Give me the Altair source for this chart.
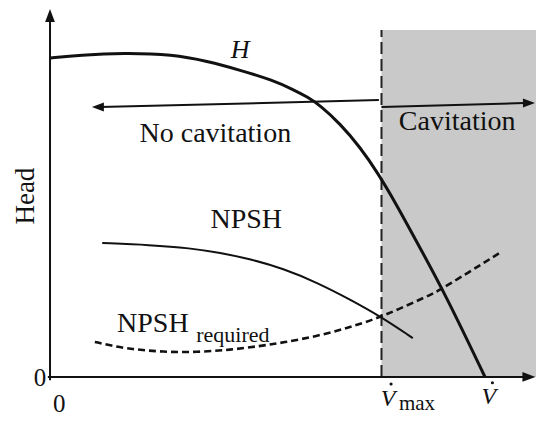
import altair as alt
import pandas as pd

# ---- data (flow in units of V-dot, head in units of shut-off head) ----
V_MAX = 0.762
GRAY_TOP = 1.088

h_q = [0.0, 0.069, 0.168, 0.283, 0.361, 0.437, 0.513, 0.559, 0.593, 0.621, 0.667, 0.713, 0.752, 0.798, 0.834, 0.908, 1.0]
h_head = [1.0, 1.009, 1.016, 1.011, 0.990, 0.962, 0.930, 0.901, 0.877, 0.851, 0.794, 0.720, 0.643, 0.537, 0.446, 0.262, 0.0]

npsh_q = [0.120, 0.230, 0.322, 0.391, 0.460, 0.536, 0.614, 0.690, 0.762, 0.834]
npsh_head = [0.420, 0.414, 0.404, 0.389, 0.370, 0.340, 0.296, 0.243, 0.188, 0.122]

req_q = [0.103, 0.145, 0.184, 0.260, 0.338, 0.414, 0.483, 0.536, 0.614, 0.690, 0.762, 0.874, 0.901, 1.034]
req_head = [0.110, 0.097, 0.088, 0.078, 0.078, 0.085, 0.097, 0.108, 0.128, 0.156, 0.188, 0.257, 0.276, 0.389]

FONT = "Liberation Serif"
XS = alt.Scale(domain=[-0.0966, 1.1172], nice=False, zero=False)
YS = alt.Scale(domain=[-0.1223, 1.1567], nice=False, zero=False)


def X(f="x"):
    return alt.X(f"{f}:Q", scale=XS, axis=None)


def Y(f="y"):
    return alt.Y(f"{f}:Q", scale=YS, axis=None)


# shaded cavitation region
gray = alt.Chart(pd.DataFrame({"x": [V_MAX], "x2": [1.12], "y": [0.0], "y2": [GRAY_TOP]})).mark_rect(
    color="#c9c9c9"
).encode(x=X(), x2="x2:Q", y=Y(), y2="y2:Q")

vline = alt.Chart(pd.DataFrame({"x": [V_MAX], "y": [0.0], "y2": [GRAY_TOP]})).mark_rule(
    color="#222", strokeWidth=2, strokeDash=[12, 5]
).encode(x=X(), y=Y(), y2="y2:Q")


def curve(qs, hs, **kw):
    df = pd.DataFrame({"x": qs, "y": hs, "o": range(len(qs))})
    return alt.Chart(df).mark_line(interpolate="basis", color="#111", **kw).encode(
        x=X(), y=Y(), order="o:Q"
    )


h_line = curve(h_q, h_head, strokeWidth=3)
npsh_line = curve(npsh_q, npsh_head, strokeWidth=2)
req_line = curve(req_q, req_head, strokeWidth=2.6, strokeDash=[7, 4])

# axes and arrows as segments
seg_df = pd.DataFrame({
    "x": [0.0, -0.005, 0.115, V_MAX],
    "y": [-0.01, 0.0, 0.846, 0.846],
    "x2": [0.0, 1.09, 0.756, 1.09],
    "y2": [1.12, 0.0, 0.868, 0.859],
})
segs = alt.Chart(seg_df).mark_rule(color="#111", strokeWidth=2).encode(
    x=X(), y=Y(), x2="x2:Q", y2="y2:Q"
)


def head(xv, yv, shape, size):
    return alt.Chart(pd.DataFrame({"x": [xv], "y": [yv]})).mark_point(
        shape=shape, filled=True, color="#111", opacity=1, size=size, strokeWidth=0
    ).encode(x=X(), y=Y())


UP = "M0,-1L0.75,1L-0.75,1Z"
RIGHT = "M1,0L-1,-0.75L-1,0.75Z"
LEFT = "M-1,0L1,-0.75L1,0.75Z"
heads = [
    head(0.0, 1.133, UP, 169),
    head(1.101, 0.0, RIGHT, 169),
    head(0.110, 0.846, LEFT, 144),
    head(1.101, 0.859, RIGHT, 144),
]


def text(label, xv, yv, size, align="center", baseline="alphabetic", style="normal", angle=0):
    return alt.Chart(pd.DataFrame({"x": [xv], "y": [yv], "t": [label]})).mark_text(
        font=FONT, fontSize=size, align=align, baseline=baseline, fontStyle=style,
        angle=angle, color="#111"
    ).encode(x=X(), y=Y(), text="t:N")


texts = [
    text("H", 0.437, 1.025, 26, baseline="middle", style="italic"),
    text("No cavitation", 0.380, 0.737, 28),
    text("Cavitation", 0.936, 0.774, 28),
    text("NPSH", 0.451, 0.467, 28),
    text("NPSH", 0.154, 0.141, 28, align="left"),
    text("required", 0.336, 0.110, 22, align="left"),
    text("Head", -0.055, 0.567, 27, baseline="middle", angle=270),
    text("0", -0.023, -0.003, 25, baseline="middle"),
    text("0", 0.021, -0.086, 25, baseline="middle"),
    text("V", 0.777, -0.068, 24, baseline="middle", style="italic"),
    text("max", 0.802, -0.105, 21, align="left"),
    text("V", 1.009, -0.064, 24, baseline="middle", style="italic"),
]

dots = alt.Chart(pd.DataFrame({"x": [0.784, 1.017], "y": [-0.022, -0.018]})).mark_point(
    shape="circle", filled=True, color="#111", opacity=1, size=10, strokeWidth=0
).encode(x=X(), y=Y())

chart = alt.layer(
    gray, vline, h_line, npsh_line, req_line, segs, *heads, *texts, dots
).properties(
    width=528, height=408, padding=0,
    autosize=alt.AutoSizeParams(type="none"),
    background="white",
).configure_view(strokeWidth=0)

chart.save("out.html", embed_options={"renderer": "svg", "actions": False})
